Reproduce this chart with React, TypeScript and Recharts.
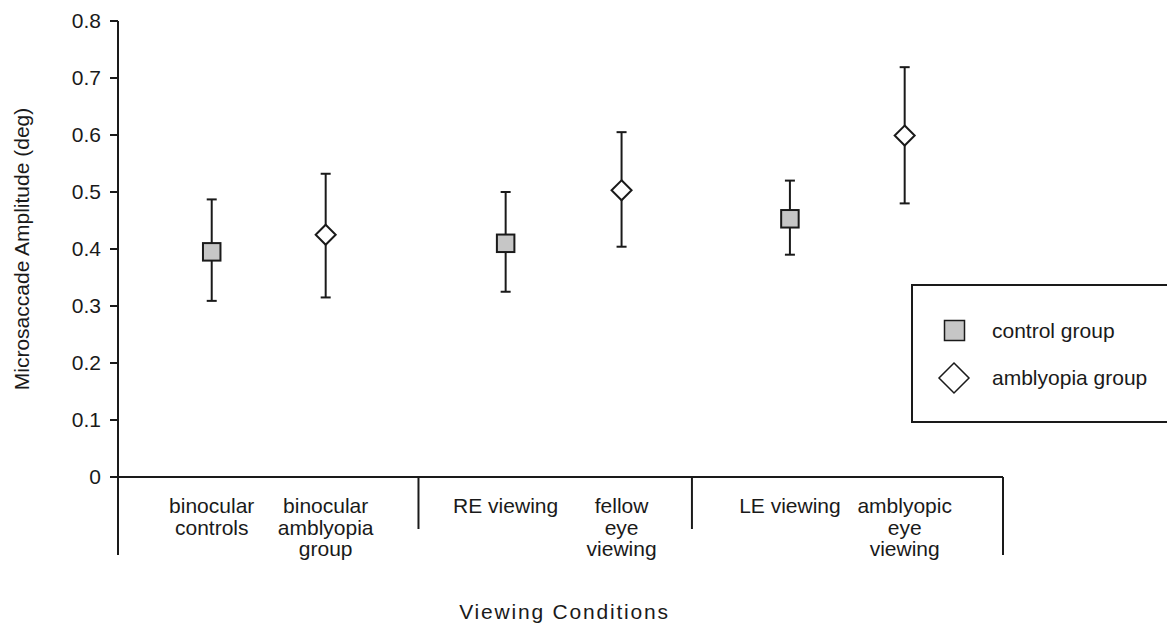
import React from "react";
import { ScatterChart, Scatter, XAxis, YAxis, ErrorBar, Legend } from "recharts";

// ---- data ----
const categoryLines: string[][] = [
  ["binocular", "controls"],
  ["binocular", "amblyopia", "group"],
  ["RE viewing"],
  ["fellow", "eye", "viewing"],
  ["LE viewing"],
  ["amblyopic", "eye", "viewing"],
];
const categoryX = [0.815, 1.806, 3.371, 4.379, 5.843, 6.841];
const groupBounds = [0, 2.613, 4.991, 7.696];
const yTicks = [0, 0.1, 0.2, 0.3, 0.4, 0.5, 0.6, 0.7, 0.8];

const seriesNames = ["control group", "amblyopia group"];

const controlIdx = [0, 2, 4];
const controlMean = [0.395, 0.41, 0.453];
const controlUpper = [0.487, 0.5, 0.52];
const controlLower = [0.309, 0.325, 0.39];

const amblyIdx = [1, 3, 5];
const amblyMean = [0.425, 0.503, 0.599];
const amblyUpper = [0.532, 0.605, 0.719];
const amblyLower = [0.315, 0.404, 0.48];

const build = (idx: number[], mean: number[], up: number[], lo: number[]) =>
  idx.map((ci, i) => ({
    x: categoryX[ci],
    y: mean[i],
    err: [mean[i] - lo[i], up[i] - mean[i]],
  }));

const controlData = build(controlIdx, controlMean, controlUpper, controlLower);
const amblyData = build(amblyIdx, amblyMean, amblyUpper, amblyLower);

// ---- styling ----
const FONT = "'Liberation Sans', Arial, Helvetica, sans-serif";
const INK = "#1a1a1a";
const GRAY = "#c6c6c6";

const xTicks = [...groupBounds, ...categoryX].sort((a, b) => a - b);

const renderXTick = (props: any) => {
  const { x, y, payload } = props;
  const v = payload.value;
  const ci = categoryX.indexOf(v);
  if (ci >= 0) {
    return (
      <text textAnchor="middle" fontFamily={FONT} fontSize={21} fill={INK}>
        {categoryLines[ci].map((l, i) => (
          <tspan key={i} x={x} y={y + 36 + i * 21.5}>
            {l}
          </tspan>
        ))}
      </text>
    );
  }
  const bi = groupBounds.indexOf(v);
  const isEnd = bi === 0 || bi === groupBounds.length - 1;
  return (
    <line x1={x} x2={x} y1={y} y2={y + (isEnd ? 78 : 52)} stroke={INK} strokeWidth={2} />
  );
};

const renderSquare = (props: any) => {
  const { cx, cy } = props;
  const s = 17.5;
  return (
    <rect x={cx - s / 2} y={cy - s / 2} width={s} height={s} fill={GRAY} stroke={INK} strokeWidth={2} />
  );
};

const renderDiamond = (props: any) => {
  const { cx, cy } = props;
  const h = 10;
  return (
    <polygon
      points={`${cx},${cy - h} ${cx + h},${cy} ${cx},${cy + h} ${cx - h},${cy}`}
      fill="#ffffff"
      stroke={INK}
      strokeWidth={2}
    />
  );
};

const renderLegend = () => (
  <div
    style={{
      position: "relative",
      width: 264,
      height: 139,
      boxSizing: "border-box",
      borderTop: `2px solid ${INK}`,
      borderLeft: `2px solid ${INK}`,
      borderBottom: `2px solid ${INK}`,
      background: "#fff",
      fontFamily: FONT,
      fontSize: 21,
      color: INK,
    }}
  >
    <svg width={24} height={24} style={{ position: "absolute", left: 30, top: 33 }}>
      <rect x={1.5} y={1.5} width={20} height={20} fill={GRAY} stroke={INK} strokeWidth={1.5} />
    </svg>
    <svg width={34} height={34} style={{ position: "absolute", left: 24, top: 75 }}>
      <polygon points="17,2 32,17 17,32 2,17" fill="#fff" stroke={INK} strokeWidth={1.5} />
    </svg>
    <div style={{ position: "absolute", left: 79, top: 33, lineHeight: "24px", whiteSpace: "nowrap" }}>
      {seriesNames[0]}
    </div>
    <div style={{ position: "absolute", left: 79, top: 80, lineHeight: "24px", whiteSpace: "nowrap" }}>
      {seriesNames[1]}
    </div>
  </div>
);

export default function App() {
  return (
    <div style={{ width: 1167, height: 617 }}>
      <ScatterChart
        width={1167}
        height={617}
        margin={{ top: 13, right: 172, bottom: 48, left: 0 }}
      >
        <XAxis
          type="number"
          dataKey="x"
          domain={[0, 7.696]}
          ticks={xTicks}
          interval={0}
          height={100}
          tickSize={0}
          tickMargin={0}
          tickLine={false}
          axisLine={{ stroke: INK, strokeWidth: 2 }}
          tick={renderXTick}
          label={{
            content: (p: any) => {
              const vb = p.viewBox || { x: 110, y: 469, width: 885 };
              return (
                <text
                  x={vb.x + vb.width / 2 + 4}
                  y={vb.y + 142}
                  textAnchor="middle"
                  fontFamily={FONT}
                  fontSize={21}
                  letterSpacing={1.8}
                  fill={INK}
                >
                  Viewing Conditions
                </text>
              );
            },
          }}
        />
        <YAxis
          type="number"
          dataKey="y"
          domain={[0, 0.8]}
          ticks={yTicks}
          interval={0}
          width={110}
          tickSize={8}
          tickMargin={9}
          axisLine={{ stroke: INK, strokeWidth: 2 }}
          tickLine={{ stroke: INK, strokeWidth: 2 }}
          tick={{ fill: INK, fontSize: 21, fontFamily: FONT }}
          tickFormatter={(v: number) => (v === 0 ? "0" : v.toFixed(1))}
          label={{
            content: (p: any) => {
              const vb = p.viewBox || { x: 0, y: 13, width: 110, height: 456 };
              const cx = vb.x + 21;
              const cy = vb.y + vb.height / 2;
              return (
                <text
                  x={cx}
                  y={cy}
                  transform={`rotate(-90, ${cx}, ${cy})`}
                  textAnchor="middle"
                  fontFamily={FONT}
                  fontSize={21}
                  fill={INK}
                >
                  Microsaccade Amplitude (deg)
                </text>
              );
            },
          }}
        />
        <Legend
          layout="horizontal"
          verticalAlign="middle"
          align="center"
          wrapperStyle={{ left: 903, top: 276, width: 264, height: 139 }}
          content={renderLegend}
        />
        <Scatter
          name={seriesNames[0]}
          data={controlData}
          shape={renderSquare}
          isAnimationActive={false}
        >
          <ErrorBar dataKey="err" direction="y" width={5} stroke={INK} strokeWidth={2} />
        </Scatter>
        <Scatter
          name={seriesNames[1]}
          data={amblyData}
          shape={renderDiamond}
          isAnimationActive={false}
        >
          <ErrorBar dataKey="err" direction="y" width={5} stroke={INK} strokeWidth={2} />
        </Scatter>
      </ScatterChart>
    </div>
  );
}
